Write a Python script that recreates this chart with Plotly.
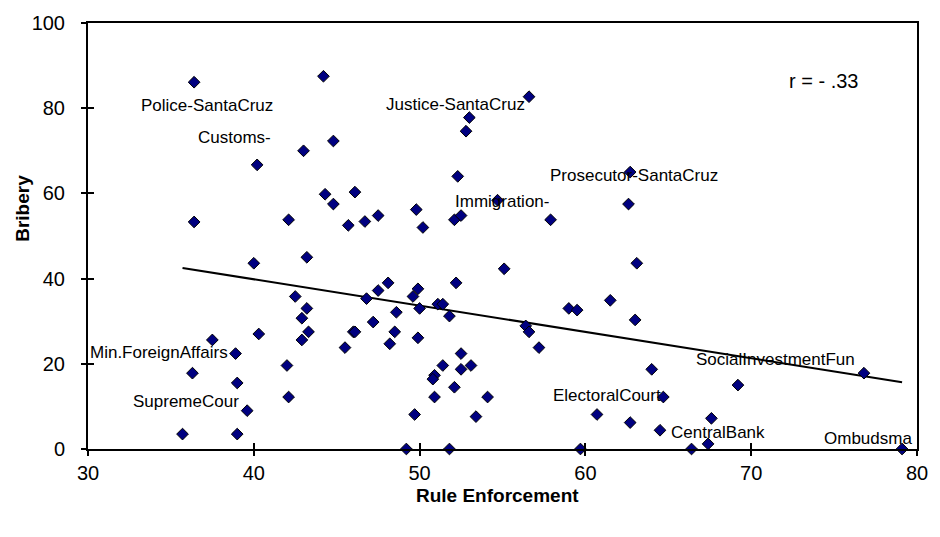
import numpy as np
import plotly.graph_objects as go

# Rule enforcement score (x) and bribery score (y) for each institution
rule_enforcement = [
    36.4, 40.2, 43.0, 36.4, 42.1, 44.2, 56.6, 53.0, 52.8, 44.8,
    52.3, 44.3, 46.1, 44.8, 54.7, 49.8, 45.7, 46.7, 47.5, 50.2,
    52.1, 52.5, 62.7, 62.6, 57.9, 40.0, 43.2, 42.5, 43.2, 42.9,
    43.3, 42.9, 40.3, 37.5, 38.9, 42.0, 36.3, 39.0, 42.1, 39.6,
    35.7, 39.0, 55.1, 48.1, 52.2, 47.5, 49.9, 46.8, 49.6, 51.1,
    51.4, 50.0, 48.6, 51.8, 47.2, 46.0, 46.1, 48.5, 56.4, 56.6,
    45.5, 48.2, 49.9, 52.5, 51.4, 52.5, 53.1, 50.9, 50.8, 52.1,
    50.9, 54.1, 49.7, 53.4, 49.2, 51.8, 57.2, 63.1, 61.5, 59.0,
    59.5, 63.0, 64.0, 69.2, 64.7, 60.7, 62.7, 67.6, 64.5, 67.4,
    59.7, 66.4, 76.8, 79.1,
]
bribery = [
    86.1, 66.7, 70.0, 53.3, 53.8, 87.5, 82.7, 77.8, 74.6, 72.3,
    64.0, 59.8, 60.3, 57.5, 58.4, 56.2, 52.5, 53.4, 54.8, 52.0,
    53.8, 54.8, 65.0, 57.5, 53.8, 43.6, 45.0, 35.8, 33.0, 30.7,
    27.5, 25.6, 27.0, 25.6, 22.4, 19.6, 17.8, 15.5, 12.2, 9.0,
    3.5, 3.5, 42.3, 39.0, 39.0, 37.2, 37.6, 35.3, 35.8, 34.0,
    34.0, 33.0, 32.1, 31.2, 29.8, 27.5, 27.5, 27.5, 28.9, 27.5,
    23.8, 24.7, 26.1, 22.4, 19.6, 18.7, 19.6, 17.3, 16.4, 14.5,
    12.2, 12.2, 8.1, 7.6, 0.0, 0.0, 23.8, 43.6, 34.9, 33.0,
    32.6, 30.3, 18.7, 15.0, 12.2, 8.1, 6.2, 7.2, 4.4, 1.2,
    0.0, 0.0, 17.8, 0.0,
]

# Named institutions (text as printed) and the point each name belongs to
label_text = [
    "Police-SantaCruz", "Customs-", "Justice-SantaCruz", "Immigration-",
    "Prosecutor-SantaCruz", "Min.ForeignAffairs", "SupremeCour",
    "ElectoralCourt", "CentralBank", "SocialInvestmentFun", "Ombudsma",
]
label_index = [0, 1, 6, 14, 22, 34, 39, 84, 88, 92, 93]

correlation_text = "r = - .33"

# Pixel offsets of each name's centre from its point
label_offsets = [
    (13, -23), (-23, 27), (-74, -8), (4, -1), (4, -3), (-77, 1),
    (-61, 9), (-56, 2), (58, -2), (-88, 14), (-34, 11),
]

FONT = "Liberation Sans, Arial, sans-serif"

# Least-squares trend line through the data
x_arr = np.array(rule_enforcement)
y_arr = np.array(bribery)
slope, intercept = np.polyfit(x_arr, y_arr, 1)
trend_x = np.sort(x_arr)
trend_y = slope * trend_x + intercept

fig = go.Figure()

fig.add_trace(go.Scatter(
    x=trend_x, y=trend_y, mode="lines",
    line=dict(color="black", width=2),
    hoverinfo="skip", showlegend=False,
))

fig.add_trace(go.Scatter(
    x=rule_enforcement, y=bribery, mode="markers",
    marker=dict(symbol="diamond", size=9, color="#000080",
                line=dict(color="black", width=1)),
    cliponaxis=False, showlegend=False,
))

# Invisible trace that carries the inner half of the crossing tick marks
fig.add_trace(go.Scatter(
    x=[30], y=[0], xaxis="x2", yaxis="y2", mode="markers",
    marker=dict(opacity=0), hoverinfo="skip", showlegend=False,
))

for name, idx, (dx, dy) in zip(label_text, label_index, label_offsets):
    fig.add_annotation(
        x=rule_enforcement[idx], y=bribery[idx], text=name,
        showarrow=False, xanchor="center", yanchor="middle",
        xshift=dx, yshift=dy,
        font=dict(family=FONT, size=17, color="black"),
    )

fig.add_annotation(
    x=0.887, y=0.864, xref="paper", yref="paper", text=correlation_text,
    showarrow=False, xanchor="center", yanchor="middle",
    font=dict(family=FONT, size=20, color="black"),
)
fig.add_annotation(
    x=-0.079, y=0.565, xref="paper", yref="paper", text="<b>Bribery</b>",
    textangle=-90, showarrow=False, xanchor="center", yanchor="middle",
    font=dict(family=FONT, size=19, color="black"),
)
fig.add_annotation(
    x=0.494, y=-0.108, xref="paper", yref="paper", text="<b>Rule Enforcement</b>",
    showarrow=False, xanchor="center", yanchor="middle",
    font=dict(family=FONT, size=19, color="black"),
)

axis_common = dict(
    showgrid=False, zeroline=False, linecolor="black", linewidth=2,
    ticks="outside", ticklen=5, tickwidth=2, tickcolor="black",
    tickfont=dict(family=FONT, size=20, color="black"),
)
inner_common = dict(
    showgrid=False, zeroline=False, showline=False, showticklabels=False,
    ticks="inside", ticklen=6, tickwidth=2, tickcolor="black",
)

fig.update_layout(
    width=940, height=537,
    margin=dict(l=88, r=16, t=16, b=88),
    plot_bgcolor="white", paper_bgcolor="white",
    xaxis=dict(range=[30, 80], tickmode="array",
               tickvals=[30, 40, 50, 60, 70, 80], mirror=True,
               ticklabelstandoff=0, **axis_common),
    yaxis=dict(range=[0, 100], tickmode="array",
               tickvals=[0, 20, 40, 60, 80, 100], mirror=True,
               ticklabelstandoff=12, **axis_common),
    xaxis2=dict(range=[30, 80], overlaying="x", anchor="y2",
                tickmode="array", tickvals=[30, 40, 50, 60, 70, 80],
                **inner_common),
    yaxis2=dict(range=[0, 100], overlaying="y", anchor="x2",
                tickmode="array", tickvals=[0, 20, 40, 60, 80, 100],
                **inner_common),
)

fig.write_html("out.html")
